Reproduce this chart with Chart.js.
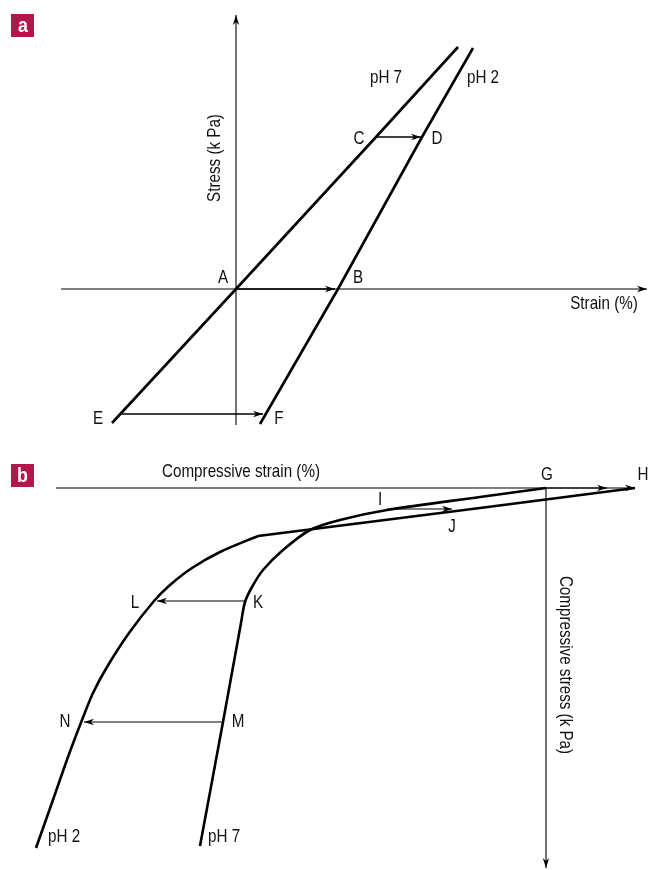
<!DOCTYPE html>
<html>
<head>
<meta charset="utf-8">
<script src="https://cdn.jsdelivr.net/npm/chart.js@4.4.1/dist/chart.umd.min.js"></script>
<style>
body{margin:0;background:#fff;}
#page{position:relative;width:648px;height:870px;overflow:hidden;}
.panel{position:absolute;left:0;}
.tag{position:absolute;left:11px;width:23px;height:23px;background:#b3164a;color:#fff;
  font:bold 21px "Liberation Sans",Arial,sans-serif;text-align:center;line-height:22px;}
.tag span{display:inline-block;transform:scaleX(0.85);}
</style>
</head>
<body>
<div id="page">
  <div class="panel" style="top:0"><canvas id="chartA" width="648" height="440"></canvas></div>
  <div class="panel" style="top:440px"><canvas id="chartB" width="648" height="430"></canvas></div>
  <div class="tag" style="top:14px"><span>a</span></div>
  <div class="tag" style="top:464px"><span>b</span></div>
</div>
<script>
// ---- panel a : strain (x) vs stress (y), arbitrary units, A at origin
const aPH7 = [[-12.4,-13.4],[0,0],[14.0,15.2],[22.2,24.2]];
const aPH2 = [[2.4,-13.5],[10.2,0],[18.6,15.2],[23.7,24.1]];
const aArrowAB = [[0,0],[9.9,0]];
const aArrowCD = [[14.0,15.2],[18.5,15.2]];
const aArrowEF = [[-11.4,-12.5],[2.7,-12.5]];
const aStrainAxis = [[-17.5,0],[41.1,0]];
const aStressAxis = [[0,-13.6],[0,27.4]];
const aLabels = [
  ["pH 7",15.0,21.1],["pH 2",24.7,21.1],["C",12.3,15.0],["D",20.1,15.0],
  ["A",-1.3,1.1],["B",12.2,1.1],["E",-13.8,-13.0],["F",4.3,-13.0],
  ["Strain (%)",36.8,-1.5],["Stress (k Pa)",-2.1,13.1,-90]
];

// ---- panel b : compressive strain (x, grows left) vs compressive stress (y, grows down), G at origin
const bPH7 = [[0,0],[6.6,0.9],[15.9,2.2],[20.6,3.2],[23.6,4.2],[26.3,6.2],[28.3,8.2],
              [29.4,9.9],[30.1,11.4],[30.5,13.5],[32.3,23.4],[34.6,35.8]];
const bPH2 = [[-8.9,0],[6.6,2.0],[28.8,4.8],[32.6,6.4],[35.4,8.0],[37.6,9.7],[39.2,11.3],
              [41.7,14.5],[43.9,17.9],[45.3,20.5],[46.4,23.2],[47.8,26.9],[49.2,30.9],[51.0,36.0]];
const bArrowGH = [[0,0],[-6.1,0]];
const bArrowIJ = [[15.9,2.1],[9.4,2.1]];
const bArrowKL = [[30.1,11.3],[38.9,11.3]];
const bArrowMN = [[32.3,23.4],[46.2,23.4]];
const bStrainAxis = [[-8.9,0],[49.0,0]];
const bStressAxis = [[0,0],[0,38.0]];
const bLabels = [
  ["Compressive strain (%)",30.5,-1.6],["G",-0.1,-1.3],["H",-9.7,-1.3],
  ["I",16.6,1.2],["J",9.4,3.9],["K",28.8,11.5],["L",41.1,11.5],
  ["M",30.8,23.4],["N",48.1,23.4],["pH 2",49.8,34.9,0,"left"],["pH 7",33.8,34.9,0,"left"],
  ["Compressive stress (k Pa)",-1.9,17.7,90]
];

// narrow look: regular sans squeezed horizontally
const FONT = '19px "Liberation Sans", Arial, sans-serif';
const SQUEEZE = 0.8;
const pts = arr => arr.map(([x, y]) => ({x, y}));

function curve(arr, tension){
  return {data: pts(arr), showLine: true, borderColor: '#000', borderWidth: 2.6,
          pointRadius: 0, fill: false, tension: tension || 0};
}
function arrowLine(arr, w){
  return {data: pts(arr), showLine: true, borderColor: '#000', borderWidth: w || 1.2,
          pointRadius: 0, fill: false, arrowHead: true};
}

const arrowPlugin = {
  id: 'arrows',
  afterDatasetsDraw(chart){
    const ctx = chart.ctx;
    chart.data.datasets.forEach((ds, i) => {
      if (!ds.arrowHead) return;
      const els = chart.getDatasetMeta(i).data;
      const p = els[els.length - 1], q = els[els.length - 2];
      const ang = Math.atan2(p.y - q.y, p.x - q.x);
      const len = 10, half = 3.2, notch = 7;
      ctx.save();
      ctx.translate(p.x, p.y);
      ctx.rotate(ang);
      ctx.beginPath();
      ctx.moveTo(0, 0);
      ctx.lineTo(-len, -half);
      ctx.lineTo(-notch, 0);
      ctx.lineTo(-len, half);
      ctx.closePath();
      ctx.fillStyle = '#000';
      ctx.fill();
      ctx.restore();
    });
  }
};

const labelPlugin = {
  id: 'labels',
  afterDraw(chart){
    const ctx = chart.ctx, sx = chart.scales.x, sy = chart.scales.y;
    (chart.options.plugins.labels.items || []).forEach(([txt, x, y, rot, align]) => {
      ctx.save();
      ctx.translate(sx.getPixelForValue(x), sy.getPixelForValue(y));
      if (rot) ctx.rotate(rot * Math.PI / 180);
      ctx.scale(SQUEEZE, 1);
      ctx.font = FONT;
      ctx.fillStyle = '#111';
      ctx.textAlign = align || 'center';
      ctx.textBaseline = 'middle';
      ctx.fillText(txt, 0, 0);
      ctx.restore();
    });
  }
};

function makeChart(id, datasets, labels, xs, ys){
  return new Chart(document.getElementById(id), {
    type: 'scatter',
    data: {datasets},
    options: {
      responsive: false, animation: false, events: [],
      layout: {padding: 0},
      plugins: {legend: {display: false}, tooltip: {enabled: false}, labels: {items: labels}},
      scales: {
        x: Object.assign({type: 'linear', display: false}, xs),
        y: Object.assign({type: 'linear', display: false}, ys)
      }
    },
    plugins: [arrowPlugin, labelPlugin]
  });
}

makeChart('chartA', [
  arrowLine(aStrainAxis, 1.1), arrowLine(aStressAxis, 1.1),
  curve(aPH7), curve(aPH2),
  arrowLine(aArrowAB, 1.6), arrowLine(aArrowCD, 1.6), arrowLine(aArrowEF, 1.6)
], aLabels, {min: -23.6, max: 41.2}, {min: -15.1, max: 28.9});

makeChart('chartB', [
  arrowLine(bStrainAxis.slice().reverse(), 1.1), arrowLine(bStressAxis, 1.1),
  curve(bPH7, 0.3), curve(bPH2.slice(0, 3)), curve(bPH2.slice(2), 0.3),
  arrowLine(bArrowGH, 1.1), arrowLine(bArrowIJ, 1.1), arrowLine(bArrowKL, 1.1), arrowLine(bArrowMN, 1.1)
], bLabels, {min: -10.2, max: 54.6, reverse: true}, {min: -4.8, max: 38.2, reverse: true});
</script>
</body>
</html>
